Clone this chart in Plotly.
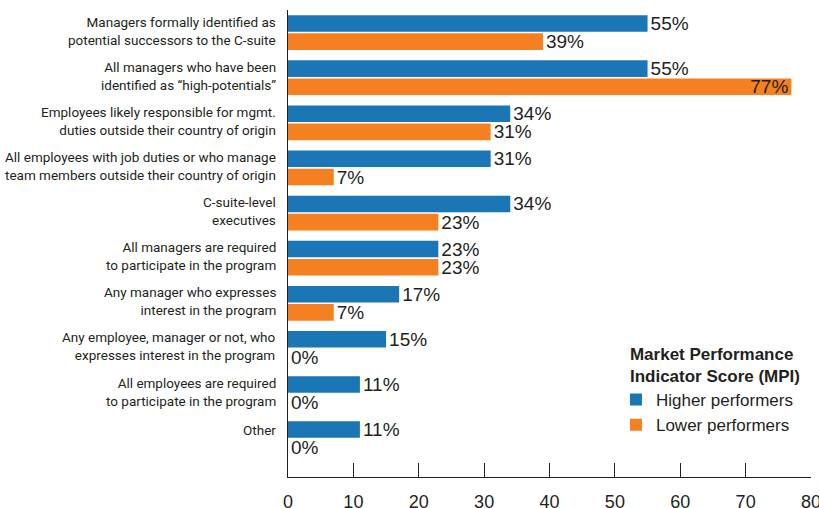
import plotly.graph_objects as go

# ---- data ----
category_lines = [
    ["Managers formally identified as", "potential successors to the C-suite"],
    ["All managers who have been", "identified as \u201chigh-potentials\u201d"],
    ["Employees likely responsible for mgmt.", "duties outside their country of origin"],
    ["All employees with job duties or who manage", "team members outside their country of origin"],
    ["C-suite-level", "executives"],
    ["All managers are required", "to participate in the program"],
    ["Any manager who expresses", "interest in the program"],
    ["Any employee, manager or not, who", "expresses interest in the program"],
    ["All employees are required", "to participate in the program"],
    ["Other"],
]
categories = [" ".join(l) for l in category_lines]
higher = [55, 55, 34, 31, 34, 23, 17, 15, 11, 11]
lower = [39, 77, 31, 7, 23, 23, 7, 0, 0, 0]
series_names = ["Higher performers", "Lower performers"]
legend_title = "Market Performance<br>Indicator Score (MPI)"
x_ticks = [0, 10, 20, 30, 40, 50, 60, 70, 80]

BLUE = "#1b76b6"
ORANGE = "#f58021"
DARK = "#231f20"
LABEL_FONT = "Roboto, Liberation Sans, sans-serif"
NUM_FONT = "Liberation Sans, Arial, sans-serif"

def positions(vals):
    return ["inside" if v > 70 else "outside" for v in vals]

fig = go.Figure()
for name, vals, color in [(series_names[0], higher, BLUE), (series_names[1], lower, ORANGE)]:
    fig.add_trace(go.Bar(
        y=categories, x=vals, name=name, orientation="h",
        marker=dict(color=color, line=dict(width=0)),
        text=[f"{v}%" for v in vals],
        textposition=positions(vals),
        insidetextanchor="end",
        textfont=dict(family=NUM_FONT, size=19, color=DARK),
        constraintext="none",
        cliponaxis=False,
        hoverinfo="skip",
    ))

annotations = []
for cat, lines in zip(categories, category_lines):
    annotations.append(dict(
        x=0, xref="paper", y=cat, yref="y", text="<br>".join(lines), showarrow=False,
        xanchor="right", yanchor="middle", align="right", xshift=-10,
        yshift=2 if len(lines) == 2 else 9,
        font=dict(family=LABEL_FONT, size=13.5, color=DARK),
    ))

fig.update_layout(
    width=819, height=508,
    margin=dict(l=288, r=8, t=10, b=31, pad=0, autoexpand=False),
    paper_bgcolor="white", plot_bgcolor="white",
    barmode="group", bargap=0.195, bargroupgap=0.088,
    showlegend=True,
    legend=dict(
        title=dict(text=legend_title, font=dict(family=NUM_FONT, size=17, color=DARK, weight="bold")),
        font=dict(family=NUM_FONT, size=17, color=DARK),
        x=0.65, y=0.298, xanchor="left", yanchor="top",
        traceorder="normal", bgcolor="rgba(0,0,0,0)",
        itemclick=False, tracegroupgap=0, indentation=-12,
    ),
    annotations=annotations,
    xaxis=dict(
        range=[0, 80], tickmode="array", tickvals=x_ticks, ticktext=[str(t) for t in x_ticks],
        ticks="inside", ticklen=14, tickwidth=1, tickcolor=DARK,
        showline=True, linecolor=DARK, linewidth=1,
        showgrid=False, zeroline=False, automargin=False,
        tickfont=dict(family=NUM_FONT, size=18, color=DARK),
        ticklabelstandoff=8, ticklabeloverflow="allow",
    ),
    yaxis=dict(
        type="category", categoryorder="array", categoryarray=categories,
        range=[9.85, -0.5], automargin=False,
        showticklabels=False, ticks="",
        showline=True, linecolor=DARK, linewidth=1,
        showgrid=False, zeroline=False,
    ),
)

fig.write_html("out.html")
